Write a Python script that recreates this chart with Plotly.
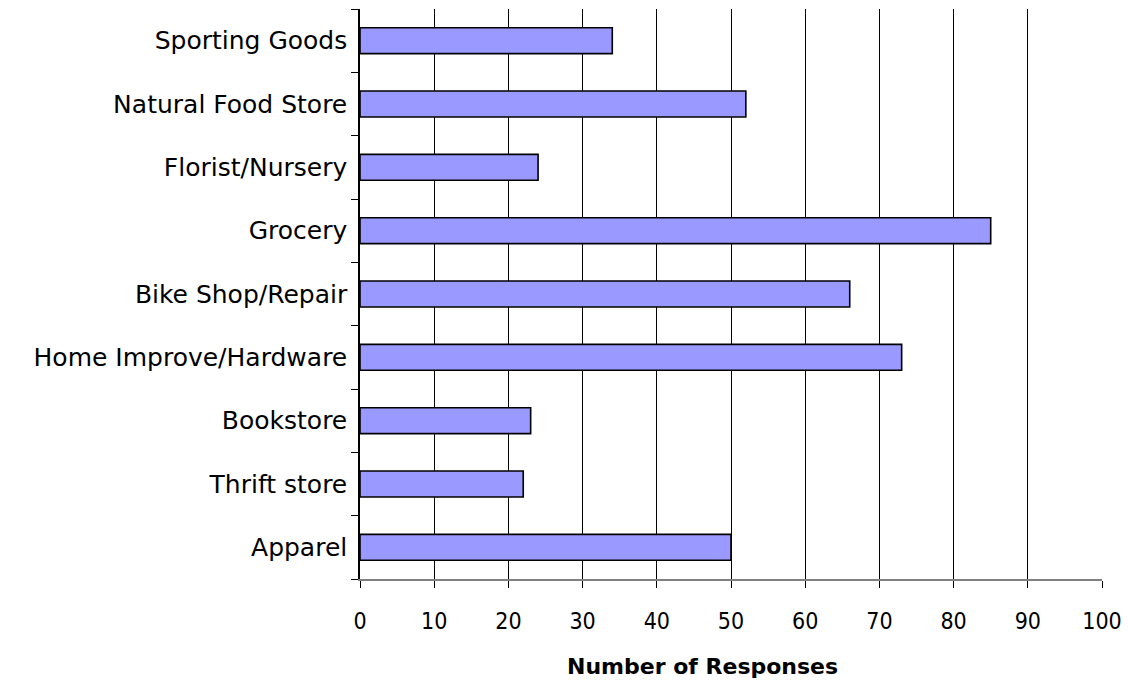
import plotly.graph_objects as go

# Store categories (bottom to top) and response counts
categories = [
    "Apparel",
    "Thrift store",
    "Bookstore",
    "Home Improve/Hardware",
    "Bike Shop/Repair",
    "Grocery",
    "Florist/Nursery",
    "Natural Food Store",
    "Sporting Goods",
]
responses = [50, 22, 23, 73, 66, 85, 24, 52, 34]
x_ticks = list(range(0, 101, 10))

FONT = "DejaVu Sans"

fig = go.Figure(
    go.Bar(
        y=categories,
        x=responses,
        orientation="h",
        marker=dict(color="#9999FF", line=dict(color="#000000", width=1.6)),
    )
)

fig.update_layout(
    width=1128,
    height=682,
    margin=dict(l=360, r=26, t=9, b=103),
    paper_bgcolor="white",
    plot_bgcolor="white",
    bargap=0.59,
    showlegend=False,
    font=dict(family=FONT, size=22, color="#000000"),
    annotations=[
        dict(
            text="<b>Number of Responses</b>",
            xref="paper",
            yref="paper",
            x=0.461,
            y=-0.153,
            xanchor="center",
            yanchor="middle",
            showarrow=False,
            font=dict(family=FONT, size=22, color="#000000"),
        )
    ],
)

fig.update_xaxes(
    range=[0, 100],
    tickvals=x_ticks,
    ticktext=[str(v) for v in x_ticks],
    showgrid=True,
    gridcolor="#000000",
    gridwidth=1,
    zeroline=False,
    showline=True,
    linecolor="#808080",
    linewidth=1.5,
    ticks="outside",
    ticklen=7,
    tickcolor="#000000",
    tickfont=dict(family="DejaVu Sans Condensed", size=23),
    ticklabelstandoff=14,
    automargin=False,
)

fig.update_yaxes(
    categoryorder="array",
    categoryarray=categories,
    showline=True,
    linecolor="#000000",
    linewidth=1.5,
    ticks="outside",
    tickson="boundaries",
    ticklen=7,
    tickcolor="#000000",
    showgrid=False,
    tickfont=dict(family=FONT, size=25),
    ticklabelstandoff=6,
    automargin=False,
)

fig.write_html("out.html")
